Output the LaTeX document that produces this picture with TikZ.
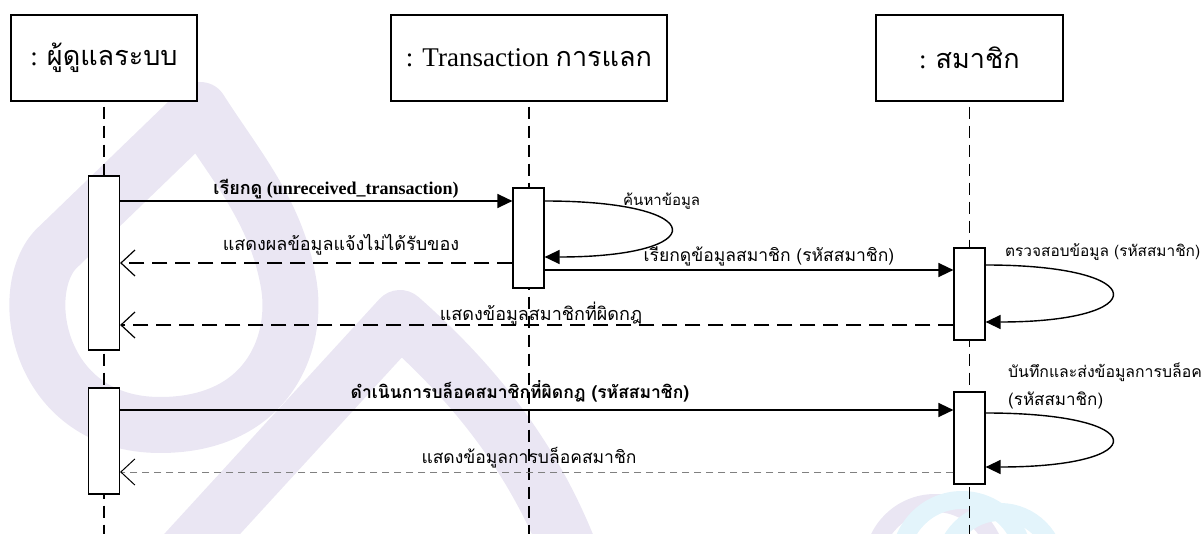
\documentclass[tikz,border=0pt]{standalone}
\usepackage{fontspec}
\setmainfont{Liberation Serif}
\newfontfamily\thaifont[Script=Thai]{Loma}
\usetikzlibrary{arrows.meta}
\usetikzlibrary{positioning}
\definecolor{wmlav}{RGB}{234,230,243}
\definecolor{wmcyan}{RGB}{227,244,251}
\newcommand{\tx}[1]{{\thaifont #1}}
\tikzset{headbox/.style = {draw, line width=1.3pt, fill=white, minimum height=86pt,
                           inner sep=0pt, font=\fontsize{27}{30}\selectfont},
         actbox/.style  = {draw, line width=1.2pt, fill=white, minimum width=31pt, inner sep=0pt},
         lifeline/.style = {line width=1.2pt, dash pattern=on 12pt off 7pt},
         call/.style    = {line width=1.4pt, -{Triangle[length=15pt, width=14pt]}},
         reply/.style   = {line width=1.2pt, dash pattern=on 15pt off 8pt,
                           -{Straight Barb[length=14pt, width=26pt]}},
         replythin/.style = {line width=1pt, gray, dash pattern=on 7pt off 5pt,
                           -{Straight Barb[length=14pt, width=26pt, black]}},
         msg/.style     = {inner sep=0pt, anchor=base, font=\fontsize{#1}{20}\selectfont},
         msg/.default   = 17.5,
         msgbold/.style = {inner sep=0pt, anchor=base, font=\fontsize{#1}{20}\selectfont\bfseries},
         msgbold/.default = 17.5,
         wm/.style      = {draw=wmlav, line width=56pt, line join=round, line cap=round},
         wmring/.style  = {line width=18pt}}

\begin{document}
\begin{tikzpicture}[x=1pt, y=-1pt]
  \useasboundingbox (0,0) rectangle (1204,534);

  % watermark
  \draw [wm] (200,110) -- (55,250) .. controls (15,295) and (40,425) .. (160,425)
             .. controls (270,425) and (300,340) .. (288,280)
             .. controls (275,210) and (235,165) .. (200,110) -- cycle;
  \draw [wm] (160,580) -- (400,318) .. controls (470,380) and (540,460) .. (580,580);
  \draw [wmring, draw=wmlav] (935,565) circle [radius=62pt];
  \draw [wmring, draw=wmcyan] (962,562) circle [radius=62pt];
  \draw [wmring, draw=wmcyan] (1000,568) circle [radius=56pt];

  % objects
  \node [headbox, minimum width=186pt] (admin) at (104,58) {: \tx{ผู้ดูแลระบบ}};
  \node [headbox, minimum width=276pt] (trans) at (529,58) {: Transaction \tx{การแลก}};
  \node [headbox, minimum width=187pt] (member) at (969.5,58) {: \tx{สมาชิก}};

  \coordinate (bottom) at (0,534);
  \foreach \obj in {admin, trans, member}
    \draw [lifeline] ([yshift=-5pt]\obj.south) -- (\obj.south |- bottom);

  % activations
  \node [actbox, minimum height=174pt] (a1) at (104,263) {};
  \node [actbox, minimum height=100pt] (t1) at (528.5,238) {};
  \node [actbox, minimum height=92pt] (m1) at (969.5,294) {};
  \node [actbox, minimum height=106pt] (a2) at (104,441) {};
  \node [actbox, minimum height=92pt] (m2) at (969.5,438) {};

  % messages
  \draw [call] (a1.east |- 0,201) -- (t1.west |- 0,201);
  \draw [reply] (t1.west |- 0,263) -- (a1.east |- 0,263);
  \draw [call] (t1.east |- 0,201) .. controls +(168,0) and +(168,0) .. (t1.east |- 0,257);
  \draw [call] (t1.east |- 0,270) -- (m1.west |- 0,270);
  \draw [call] (m1.east |- 0,265) .. controls +(168,0) and +(168,0) .. (m1.east |- 0,322);
  \draw [reply] (m1.west |- 0,325) -- (a1.east |- 0,325);
  \draw [call] (a2.east |- 0,410) -- (m2.west |- 0,410);
  \draw [call] (m2.east |- 0,413) .. controls +(168,0) and +(168,0) .. (m2.east |- 0,467);
  \draw [replythin] (m2.west |- 0,472) -- (a2.east |- 0,472);

  % labels
  \node [msgbold=18] (l1) at (336,195) {\tx{เรียกดู} (unreceived\_transaction)};
  \node [msg=18] (l2) at (341,251) {\tx{แสดงผลข้อมูลแจ้งไม่ได้รับของ}};
  \node [msg=15, anchor=base west] (l3) at (623,206) {\tx{ค้นหาข้อมูล}};
  \node [msg] (l4) at (769,262) {\tx{เรียกดูข้อมูลสมาชิก (รหัสสมาชิก)}};
  \node [msg=15.4, anchor=base west] (l5) at (1005,257) {\tx{ตรวจสอบข้อมูล (รหัสสมาชิก)}};
  \node [msg=18] (l6) at (541,321) {\tx{แสดงข้อมูลสมาชิกที่ผิดกฎ}};
  \node [msgbold] (l7) at (520,398) {\tx{ดำเนินการบล็อคสมาชิกที่ผิดกฎ (รหัสสมาชิก)}};
  \node [msg] (l8) at (529,463) {\tx{แสดงข้อมูลการบล็อคสมาชิก}};
  \node [msg=15.8, anchor=base west] (l9) at (1008,377) {\tx{บันทึกและส่งข้อมูลการบล็อค}};
  \node [msg=17, anchor=base west] (l10) at (1008,405) {\tx{(รหัสสมาชิก)}};
\end{tikzpicture}
\end{document}
